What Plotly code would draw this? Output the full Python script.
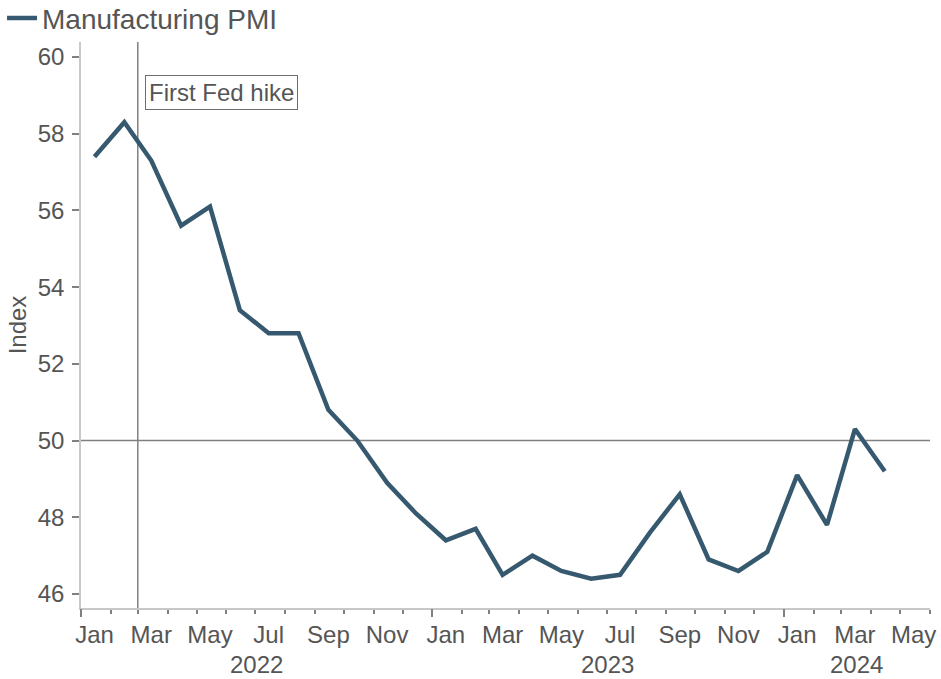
import plotly.graph_objects as go
import pandas as pd

# ---- data ----
months = pd.date_range("2022-01-01", "2024-04-01", freq="MS") + pd.Timedelta(days=14)
pmi = [57.4, 58.3, 57.3, 55.6, 56.1, 53.4, 52.8, 52.8, 50.8, 50.0, 48.9, 48.1,
       47.4, 47.7, 46.5, 47.0, 46.6, 46.4, 46.5, 47.6, 48.6, 46.9, 46.6, 47.1,
       49.1, 47.8, 50.3, 49.2]
series_name = "Manufacturing PMI"
y_ticks = [46, 48, 50, 52, 54, 56, 58, 60]
label_months = pd.date_range("2022-01-01", "2024-05-01", freq="2MS")
month_starts = pd.date_range("2022-01-01", "2024-06-01", freq="MS")
year_starts = pd.date_range("2022-01-01", "2024-01-01", freq="YS")
years = ["2022", "2023", "2024"]
year_centers = ["2022-07-02", "2023-07-02", "2024-03-17"]
fed_hike_date = "2022-03-01"
fed_hike_label = "First Fed hike"
threshold = 50

x_range = ["2022-01-01", "2024-06-01"]
y_range = [45.635, 60.39]

FONT = "Liberation Sans, Arial, sans-serif"
TXT = "#555555"
LINE = "#36596F"
FS = 24

fig = go.Figure()
fig.add_trace(go.Scatter(x=months, y=pmi, mode="lines", name=series_name,
                         line=dict(color=LINE, width=4.5)))
# invisible helper trace so the overlay axis (long January ticks) is drawn
fig.add_trace(go.Scatter(x=months, y=pmi, mode="lines", xaxis="x2", showlegend=False,
                         hoverinfo="skip", line=dict(width=0), opacity=0))

fig.add_hline(y=threshold, line=dict(color="#808080", width=1.5), layer="below")
fig.add_vline(x=fed_hike_date, line=dict(color="#808080", width=1.5), layer="below")

fig.add_annotation(x=fed_hike_date, y=59.08, xref="x", yref="y", text=fed_hike_label,
                   showarrow=False, xanchor="left", yanchor="middle", xshift=7,
                   font=dict(family=FONT, size=FS, color=TXT),
                   bordercolor="#6e6e6e", borderwidth=1, borderpad=3, bgcolor="white")

for yr, xc in zip(years, year_centers):
    fig.add_annotation(x=xc, y=0, xref="x", yref="paper", text=yr, showarrow=False,
                       xanchor="center", yanchor="middle", yshift=-56,
                       font=dict(family=FONT, size=FS, color=TXT))

fig.update_layout(
    width=941, height=679,
    margin=dict(l=81, r=11, t=42, b=71, autoexpand=False),
    plot_bgcolor="white", paper_bgcolor="white",
    font=dict(family=FONT, size=FS, color=TXT),
    showlegend=True,
    legend=dict(x=-0.093, y=1.086, xanchor="left", yanchor="top",
                font=dict(family=FONT, size=28, color=TXT),
                bgcolor="rgba(0,0,0,0)", itemwidth=30, tracegroupgap=0),
    xaxis=dict(
        type="date", range=x_range, automargin=False,
        tickmode="array",
        tickvals=[d + pd.Timedelta(days=14) for d in label_months],
        ticktext=[d.strftime("%b") for d in label_months],
        ticks="", showgrid=False, zeroline=False,
        showline=True, linecolor="#c8c8c8", linewidth=1.5,
        tickfont=dict(family=FONT, size=FS, color=TXT),
        ticklabelstandoff=4,
        minor=dict(tickmode="array", tickvals=list(month_starts), ticks="outside",
                   ticklen=4, tickwidth=1.5, tickcolor="#808080", showgrid=False),
    ),
    xaxis2=dict(
        type="date", matches="x", overlaying="x", anchor="y", side="bottom",
        automargin=False,
        tickmode="array", tickvals=list(year_starts), ticks="outside",
        ticklen=8, tickwidth=1.5, tickcolor="#808080",
        showticklabels=False, showgrid=False, showline=False, zeroline=False,
    ),
    yaxis=dict(
        range=y_range, tickmode="array", tickvals=y_ticks, automargin=False,
        ticks="outside", ticklen=7, tickwidth=1.5, tickcolor="#808080",
        showgrid=False, zeroline=False,
        showline=True, linecolor="#c8c8c8", linewidth=1.5,
        tickfont=dict(family=FONT, size=FS, color=TXT),
        ticklabelstandoff=3,
        title=dict(text="Index", font=dict(family=FONT, size=FS, color=TXT), standoff=4),
    ),
)

fig.write_html("out.html", config={"displayModeBar": False},
               post_script="document.body.style.margin='0px';")
